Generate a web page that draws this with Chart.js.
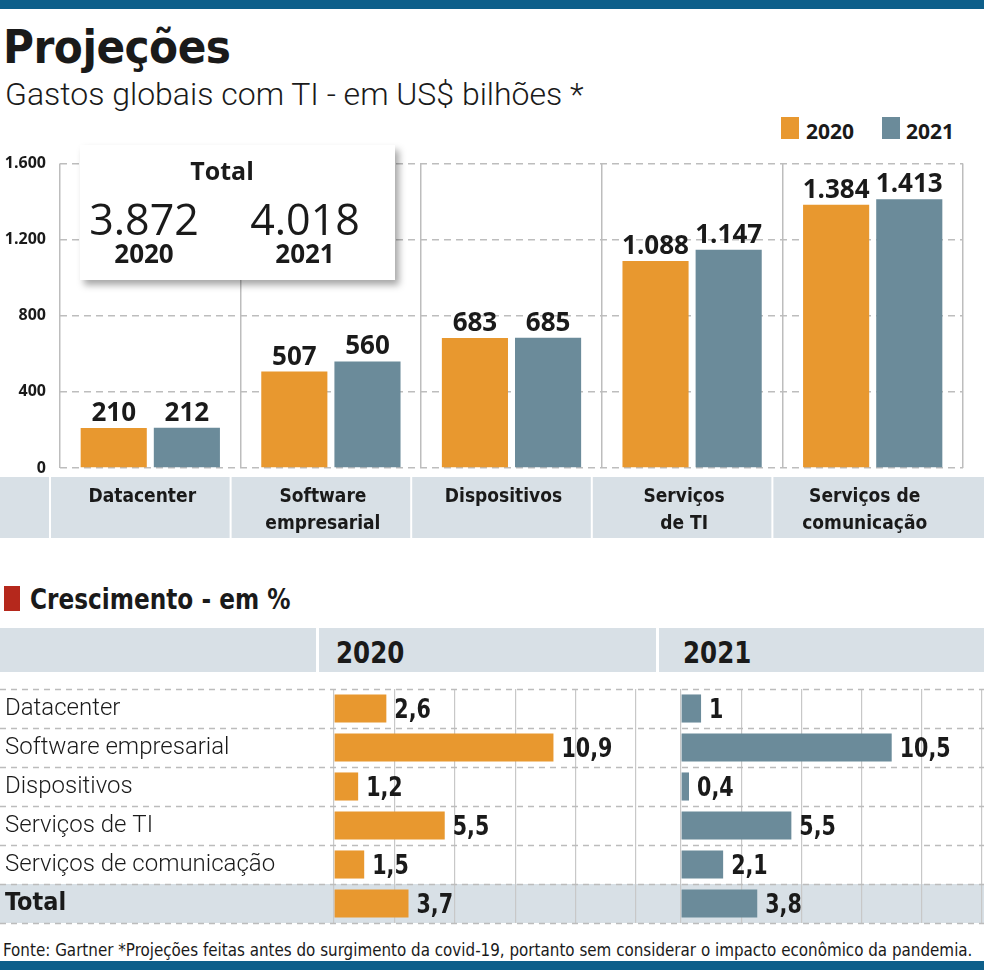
<!DOCTYPE html>
<html lang="pt-BR">
<head>
<meta charset="utf-8">
<title>Projeções</title>
<script src="https://cdn.jsdelivr.net/npm/chart.js@4.4.1/dist/chart.umd.min.js"></script>
<style>
  body { margin: 0; background: #fff; }
  #page { position: relative; width: 984px; height: 970px; overflow: hidden; color: #1a1a1a;
          font-family: "DejaVu Sans Condensed", sans-serif; }
  .abs { position: absolute; white-space: nowrap; line-height: 1; }
  .narrow { transform-origin: 0 50%; }
  .bar { left: 0; width: 984px; height: 9px; background: #0e5f8a; }
  #title { left: 3px; top: 19px; font: 700 47px "DejaVu Sans Condensed", sans-serif; letter-spacing: -0.5px; }
  #subtitle { left: 5px; top: 75px; font: 300 32px Roboto, sans-serif; }
  .swatch { width: 18px; height: 22px; }
  .legtext { font: 700 21px "Open Sans", sans-serif; }
  #totalBox { left: 80px; top: 145px; width: 315px; height: 135px; background: #fff; z-index: 2;
              box-shadow: 4px 5px 7px rgba(0,0,0,0.35); }
  #totalBox .abs { transform: translateX(-50%); }
  .big { font: 400 43px "Open Sans", sans-serif; }
  .yr { font: 700 26px "Open Sans", sans-serif; }
  .band { left: 0; width: 984px; background: #d8e0e6; }
  .sep { width: 3px; background: #fff; }
  .head { font: 700 31px "DejaVu Sans Condensed", sans-serif; transform: scaleX(0.88); }
  canvas { position: absolute; }
</style>
</head>
<body>
<div id="page">
  <div class="abs bar" style="top:0"></div>
  <div class="abs" id="title">Projeções</div>
  <div class="abs" id="subtitle">Gastos globais com TI - em US$ bilhões *</div>

  <div class="abs swatch" style="left:781px; top:117px; background:#e8982f"></div>
  <div class="abs legtext" style="left:806px; top:117px">2020</div>
  <div class="abs swatch" style="left:882px; top:117px; background:#6b8b9a"></div>
  <div class="abs legtext" style="left:906px; top:117px">2021</div>

  <canvas id="spendChart" width="984" height="405" style="left:0; top:140px"></canvas>

  <div class="abs" id="totalBox">
    <div class="abs" style="left:142px; top:8px; font:700 25px 'Open Sans', sans-serif">Total</div>
    <div class="abs big" id="total2020" style="left:64px; top:44px"></div>
    <div class="abs big" id="total2021" style="left:225px; top:44px"></div>
    <div class="abs yr" id="year2020" style="left:64px; top:90px"></div>
    <div class="abs yr" id="year2021" style="left:225px; top:90px"></div>
  </div>

  <div class="abs" style="left:4px; top:586px; width:16px; height:25px; background:#b5281c"></div>
  <div class="abs narrow" style="left:30px; top:582px; font:700 29px 'DejaVu Sans Condensed', sans-serif; transform:scaleX(0.89)">Crescimento - em %</div>

  <div class="abs band" style="top:628px; height:44px"></div>
  <div class="abs sep" style="left:316px; top:628px; height:44px"></div>
  <div class="abs sep" style="left:656px; top:628px; height:44px"></div>
  <div class="abs head narrow" style="left:336px; top:634px">2020</div>
  <div class="abs head narrow" style="left:683px; top:634px">2021</div>

  <div class="abs band" style="top:884px; height:39px"></div>
  <canvas id="growth2020" width="660" height="250" style="left:0; top:680px"></canvas>
  <canvas id="growth2021" width="324" height="250" style="left:660px; top:680px"></canvas>

  <div class="abs narrow" style="left:3px; top:939px; font:400 18px 'DejaVu Sans Condensed', sans-serif; transform:scaleX(0.935)">Fonte: Gartner *Projeções feitas antes do surgimento da covid-19, portanto sem considerar o impacto econômico da pandemia.</div>
  <div class="abs bar" style="top:961px"></div>
</div>

<script>
// data
const categories = ["Datacenter", ["Software", "empresarial"], "Dispositivos", ["Serviços", "de TI"], ["Serviços de", "comunicação"]];
const years = ["2020", "2021"];
const spend2020 = [210, 507, 683, 1088, 1384];
const spend2021 = [212, 560, 685, 1147, 1413];
const totals = [3872, 4018];
const growthRows = ["Datacenter", "Software empresarial", "Dispositivos", "Serviços de TI", "Serviços de comunicação", "Total"];
const growth2020 = [2.6, 10.9, 1.2, 5.5, 1.5, 3.7];
const growth2021 = [1, 10.5, 0.4, 5.5, 2.1, 3.8];

const ORANGE = "#e8982f";
const BLUE = "#6b8b9a";
const INK = "#1a1a1a";
const COND = "'DejaVu Sans Condensed', sans-serif";

// pt-BR number format: 1.088 / 10,9
function fmt(v) {
    const parts = String(v).split(".");
    parts[0] = parts[0].replace(/\B(?=(\d{3})+(?!\d))/g, ".");
    return parts.join(",");
}

document.getElementById("total2020").textContent = fmt(totals[0]);
document.getElementById("total2021").textContent = fmt(totals[1]);
document.getElementById("year2020").textContent = years[0];
document.getElementById("year2021").textContent = years[1];

// numbers next to / on top of the bars
const valueLabels = {
    id: "valueLabels",
    afterDatasetsDraw(chart, args, opts) {
        const ctx = chart.ctx;
        const sx = opts.scaleX || 1;
        chart.data.datasets.forEach((ds, i) => {
            chart.getDatasetMeta(i).data.forEach((bar, j) => {
                const text = fmt(ds.data[j]);
                ctx.save();
                ctx.font = opts.font;
                ctx.fillStyle = INK;
                if (opts.horizontal) {
                    ctx.textAlign = "left";
                    ctx.textBaseline = "middle";
                    ctx.translate(bar.x + 8, bar.y + 2);
                } else {
                    ctx.textAlign = "center";
                    ctx.textBaseline = "alphabetic";
                    ctx.translate(bar.x, bar.y - 7);
                }
                ctx.scale(sx, 1);
                ctx.fillText(text, 0, 0);
                ctx.restore();
            });
        });
    }
};

// grey band behind the category names
const labelBand = {
    id: "labelBand",
    beforeDraw(chart) {
        const { ctx, chartArea, scales: { x } } = chart;
        const top = chartArea.bottom + 9, h = 61;
        const step = x.width / categories.length;
        ctx.save();
        ctx.fillStyle = "#d8e0e6";
        ctx.fillRect(0, top, chart.width, h);
        ctx.fillStyle = "#fff";
        for (let i = 0; i < categories.length; i++) {
            ctx.fillRect(x.left + i * step - 11, top, 2, h);
        }
        ctx.restore();
    }
};

// dashed row separators running the full width
const rowLines = {
    id: "rowLines",
    beforeDatasetsDraw(chart) {
        const { ctx, chartArea: a } = chart;
        const n = chart.data.labels.length;
        ctx.save();
        ctx.strokeStyle = "#bcbcbc";
        ctx.lineWidth = 1.5;
        ctx.setLineDash([6, 5]);
        for (let i = 0; i <= n; i++) {
            const y = Math.round(a.top + i * a.height / n) + 0.5;
            ctx.beginPath();
            ctx.moveTo(0, y);
            ctx.lineTo(chart.width, y);
            ctx.stroke();
        }
        ctx.restore();
    }
};

new Chart(document.getElementById("spendChart"), {
    type: "bar",
    data: {
        labels: categories,
        datasets: [
            { label: years[0], data: spend2020, backgroundColor: ORANGE },
            { label: years[1], data: spend2021, backgroundColor: BLUE }
        ]
    },
    plugins: [labelBand, valueLabels],
    options: {
        responsive: false,
        animation: false,
        layout: { padding: { top: 17, right: 21, left: 0, bottom: 0 } },
        datasets: { bar: { categoryPercentage: 0.81, barPercentage: 0.904 } },
        plugins: {
            legend: { display: false },
            tooltip: { enabled: false },
            valueLabels: { font: "700 26px 'Open Sans', sans-serif" }
        },
        scales: {
            x: {
                grid: { color: "#bdbdbd", lineWidth: 1.5, drawTicks: false, offset: true },
                border: { display: false },
                ticks: {
                    font: { family: COND, weight: "bold", size: 19, lineHeight: 1.4 },
                    color: INK, padding: 16, labelOffset: -8, maxRotation: 0, autoSkip: false
                },
                afterFit: s => { s.height = 77; }
            },
            y: {
                min: 0,
                max: 1600,
                ticks: {
                    stepSize: 400,
                    callback: v => fmt(v),
                    font: { family: "'Open Sans', sans-serif", weight: "bold", size: 16 },
                    color: INK, padding: 14
                },
                grid: { color: "#bdbdbd", lineWidth: 1.5, drawTicks: false },
                border: { display: false, dash: [7, 5] },
                afterFit: s => { s.width = 60; }
            }
        }
    }
});

function growthChart(id, values, color, withLabels, padding) {
    new Chart(document.getElementById(id), {
        type: "bar",
        data: {
            labels: growthRows,
            datasets: [{ data: values, backgroundColor: color }]
        },
        plugins: [rowLines, valueLabels],
        options: {
            indexAxis: "y",
            responsive: false,
            animation: false,
            layout: { padding: padding },
            datasets: { bar: { categoryPercentage: 1, barPercentage: 0.72 } },
            plugins: {
                legend: { display: false },
                tooltip: { enabled: false },
                valueLabels: { font: "700 27px " + COND, horizontal: true, scaleX: 0.85 }
            },
            scales: {
                x: {
                    min: 0,
                    max: 15,
                    ticks: { stepSize: 3, display: false },
                    grid: { color: "#c8c8c8", lineWidth: 1.2, drawTicks: false },
                    border: { display: false },
                    afterFit: s => { s.height = 0; }
                },
                y: {
                    grid: { display: false },
                    border: { display: false },
                    ticks: {
                        display: withLabels,
                        autoSkip: false,
                        crossAlign: "far",
                        padding: 0,
                        color: INK,
                        font: c => c.index === growthRows.length - 1
                            ? { family: COND, weight: "bold", size: 25 }
                            : { family: "Roboto, sans-serif", weight: "300", size: 24 }
                    },
                    // keep the plot rows aligned with the 2021 chart
                    afterFit: s => {
                        s.width = withLabels ? 329 : 0;
                        s.paddingTop = 0;
                        s.paddingBottom = 0;
                    }
                }
            }
        }
    });
}

growthChart("growth2020", growth2020, ORANGE, true, { top: 9, bottom: 7, left: 5, right: 24 });
growthChart("growth2021", growth2021, BLUE, false, { top: 9, bottom: 7, left: 21, right: 2 });
</script>
</body>
</html>
